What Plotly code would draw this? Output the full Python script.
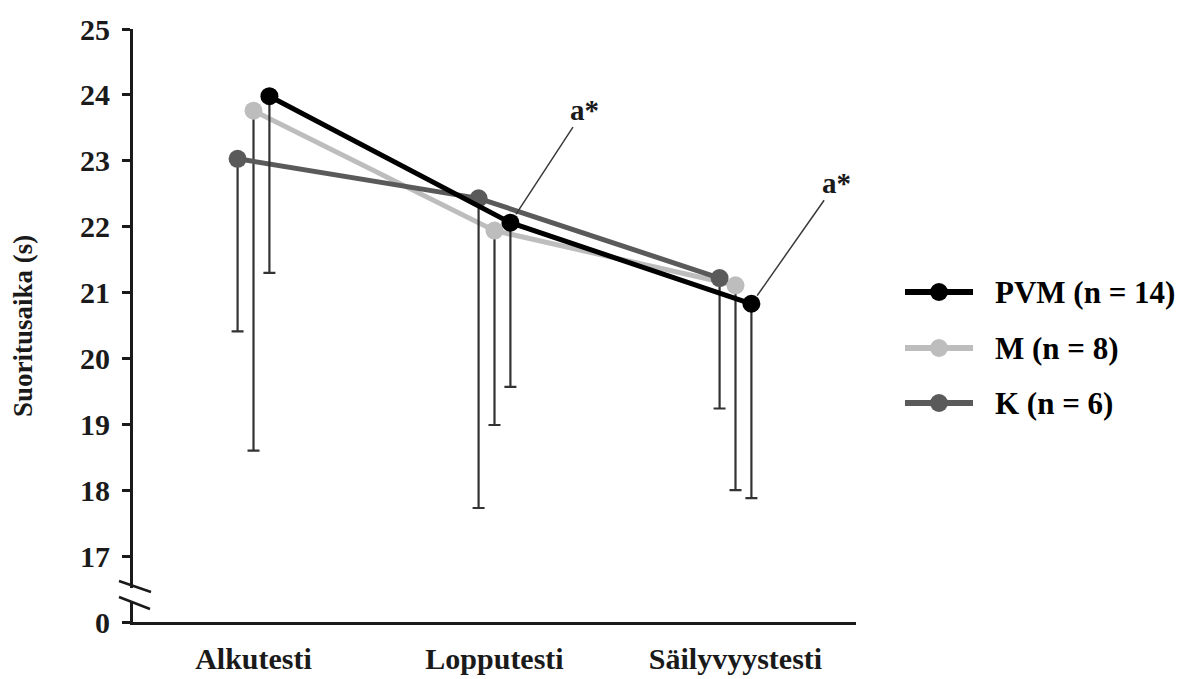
import numpy as np
import plotly.graph_objects as go

# Test phases and group results (mean with lower SD)
categories = ["Alkutesti", "Lopputesti", "Säilyvyystesti"]
series_names = ["PVM (n = 14)", "M (n = 8)", "K (n = 6)"]

pvm_mean = [23.98, 22.06, 20.83]
pvm_sd = [2.68, 2.49, 2.95]
m_mean = [23.76, 21.94, 21.11]
m_sd = [5.16, 2.95, 3.11]
k_mean = [23.03, 22.43, 21.22]
k_sd = [2.62, 4.70, 1.98]

y_tick_values = [16, 17, 18, 19, 20, 21, 22, 23, 24, 25]
y_tick_labels = ["0", "17", "18", "19", "20", "21", "22", "23", "24", "25"]
sig_label = "a*"

FONT = "Liberation Serif"
TXT = "#1a1a1a"
W, H = 1184, 679
ML, MR, MT, MB = 133, 4, 29, 57
PLOT_W = W - ML - MR
PLOT_H = H - MT - MB


def px_x(px):
    return (px - ML) / PLOT_W


def px_y(py):
    return (H - MB - py) / PLOT_H


styles = {
    "PVM (n = 14)": dict(color="#000000", offset=0.066, mean=pvm_mean, sd=pvm_sd),
    "M (n = 8)": dict(color="#bdbdbd", offset=0.0, mean=m_mean, sd=m_sd),
    "K (n = 6)": dict(color="#5a5a5a", offset=-0.066, mean=k_mean, sd=k_sd),
}

fig = go.Figure()
x_base = np.arange(len(categories))

# draw light series first so the black line lies on top
for name in ["M (n = 8)", "K (n = 6)", "PVM (n = 14)"]:
    s = styles[name]
    fig.add_trace(go.Scatter(
        x=x_base + s["offset"], y=s["mean"], name=name,
        mode="lines+markers",
        line=dict(color=s["color"], width=5),
        marker=dict(color=s["color"], size=18),
        error_y=dict(type="data", symmetric=False,
                     array=[0] * len(s["mean"]), arrayminus=s["sd"],
                     color="#333333", thickness=2.2, width=6),
        showlegend=False,
    ))

# legend drawn on an overlay axis measured in pixels
leg_dom = [px_x(905), px_x(973)]
leg_y = {"PVM (n = 14)": 292, "M (n = 8)": 348, "K (n = 6)": 403}
for name in series_names:
    s = styles[name]
    fig.add_trace(go.Scatter(x=[0, 1], y=[leg_y[name]] * 2, mode="lines",
                             line=dict(color=s["color"], width=6),
                             xaxis="x2", yaxis="y2", showlegend=False, hoverinfo="skip"))
    fig.add_trace(go.Scatter(x=[0.5], y=[leg_y[name]], mode="markers",
                             marker=dict(color=s["color"], size=18),
                             xaxis="x2", yaxis="y2", showlegend=False, hoverinfo="skip"))

annotations = []
for name in series_names:
    annotations.append(dict(
        xref="paper", yref="y2", x=px_x(993), y=leg_y[name], xanchor="left", yanchor="middle",
        text=name, showarrow=False,
        font=dict(family=FONT, size=31, color="#000000", weight="bold"),
    ))

# significance markers pointing at the PVM means
for idx, (ax, ay) in zip([1, 2], [(74, -113), (85, -121)]):
    annotations.append(dict(
        x=idx + styles["PVM (n = 14)"]["offset"], y=pvm_mean[idx], xref="x", yref="y",
        text=sig_label, showarrow=True, arrowhead=0, arrowwidth=1.5,
        arrowcolor="#3a3a3a", standoff=10, ax=ax, ay=ay,
        font=dict(family=FONT, size=29, color=TXT, weight="bold"),
    ))

# y-axis title
annotations.append(dict(
    xref="paper", yref="paper", x=px_x(23), y=px_y(326), text="Suoritusaika (s)",
    textangle=-90, showarrow=False, xanchor="center", yanchor="middle",
    font=dict(family=FONT, size=27, color=TXT, weight="bold"),
))

# axis break on the y-axis
shapes = [
    dict(type="rect", xref="paper", yref="paper", x0=px_x(128), x1=px_x(139),
         y0=px_y(601), y1=px_y(588), fillcolor="white", line=dict(width=0), layer="above"),
    dict(type="line", xref="paper", yref="paper", x0=px_x(119), y0=px_y(581),
         x1=px_x(151), y1=px_y(592), line=dict(color=TXT, width=2.5), layer="above"),
    dict(type="line", xref="paper", yref="paper", x0=px_x(119), y0=px_y(597),
         x1=px_x(150), y1=px_y(609), line=dict(color=TXT, width=2.5), layer="above"),
]

fig.update_layout(
    width=W, height=H,
    margin=dict(l=ML, r=MR, t=MT, b=MB, autoexpand=False),
    plot_bgcolor="white", paper_bgcolor="white",
    showlegend=False,
    font=dict(family=FONT, color=TXT),
    xaxis=dict(
        domain=[0, px_x(856)], range=[-0.5, 2.5], automargin=False,
        tickvals=list(x_base), ticktext=categories,
        showline=True, linecolor=TXT, linewidth=3, ticks="",
        showgrid=False, zeroline=False, ticklabelstandoff=8,
        tickfont=dict(family=FONT, size=30, color=TXT, weight="bold"),
    ),
    yaxis=dict(
        range=[16, 25], tickvals=y_tick_values, ticktext=y_tick_labels, automargin=False,
        showline=True, linecolor=TXT, linewidth=3,
        ticks="outside", ticklen=8, tickwidth=2.5, tickcolor=TXT,
        showgrid=False, zeroline=False, ticklabelstandoff=6,
        tickfont=dict(family=FONT, size=30, color=TXT, weight="bold"),
    ),
    xaxis2=dict(domain=leg_dom, range=[0, 1], visible=False, anchor="y2"),
    yaxis2=dict(domain=[0, 1], range=[H - MB, MT], visible=False, anchor="x2"),
    annotations=annotations,
    shapes=shapes,
)

fig.write_html("out.html")
